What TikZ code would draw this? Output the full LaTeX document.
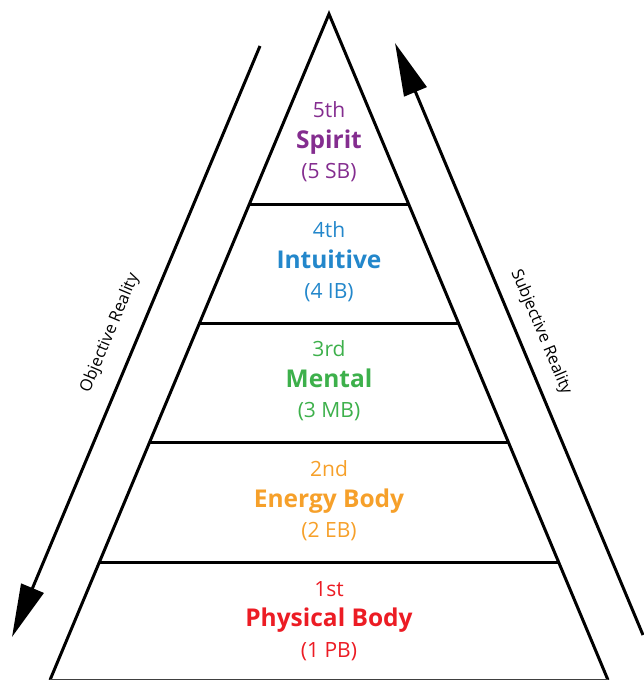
\documentclass[tikz,border=0pt]{standalone}
\usepackage{fontspec}
\setmainfont{Open Sans}
\usepackage{xcolor}
\usetikzlibrary{arrows.meta,calc}
\definecolor{spiritc}{HTML}{842D8F}
\definecolor{intuitc}{HTML}{2387CB}
\definecolor{mentalc}{HTML}{3DB04B}
\definecolor{energyc}{HTML}{F6A02A}
\definecolor{physc}{HTML}{EC1C24}
\newcommand{\levelname}[1]{{\fontsize{24.5}{30.5}\selectfont\bfseries #1}}
\tikzset{
    level-text/.style = {align=center, font=\fontsize{21}{30.5}\selectfont},
    side-arrow/.style = {line width=3pt, -{Triangle[length=53pt,width=24pt]}},
    side-label/.style = {font=\fontsize{16.5}{18}\selectfont, inner sep=0pt},
}

\begin{document}
\begin{tikzpicture}[x=1pt, y=-1pt, line width=3pt]
\useasboundingbox (0,0) rectangle (643,680);
% pyramid outline
\coordinate (apex) at (329,14);
\coordinate (bl) at (50,680);
\coordinate (br) at (608,680);
\draw[line join=miter] (bl) -- (apex) -- (br);
\draw[line width=2pt, black!75] (bl) -- (br);
\foreach \y/\name in {205/a, 324/b, 443/c, 562/d} {
    \draw ($(apex)!{(\y-14)/666}!(bl)$) coordinate (\name-l) -- ($(apex)!{(\y-14)/666}!(br)$) coordinate (\name-r);
}
% levels
\node[level-text, text=spiritc] (spirit) at (329,142) {5th\\\levelname{Spirit}\\(5 SB)};
\node[level-text, text=intuitc] (intuitive) at (329,262) {4th\\\levelname{Intuitive}\\(4 IB)};
\node[level-text, text=mentalc] (mental) at (329,381) {3rd\\\levelname{Mental}\\(3 MB)};
\node[level-text, text=energyc] (energy) at (329,501) {2nd\\\levelname{Energy Body}\\(2 EB)};
\node[level-text, text=physc] (physical) at (329,621) {1st\\\levelname{Physical Body}\\(1 PB)};
% side arrows
\coordinate (obj-start) at (260,46);
\coordinate (obj-end) at (12,637);
\coordinate (subj-start) at (643,635);
\coordinate (subj-end) at (395,43);
\draw[side-arrow] (obj-start) -- (obj-end);
\draw[side-arrow] (subj-start) -- (subj-end);
\node[side-label, rotate=67.2] (objective) at (110,333) {Objective Reality};
\node[side-label, rotate=-67.2] (subjective) at (541,332) {Subjective Reality};
\end{tikzpicture}
\end{document}
